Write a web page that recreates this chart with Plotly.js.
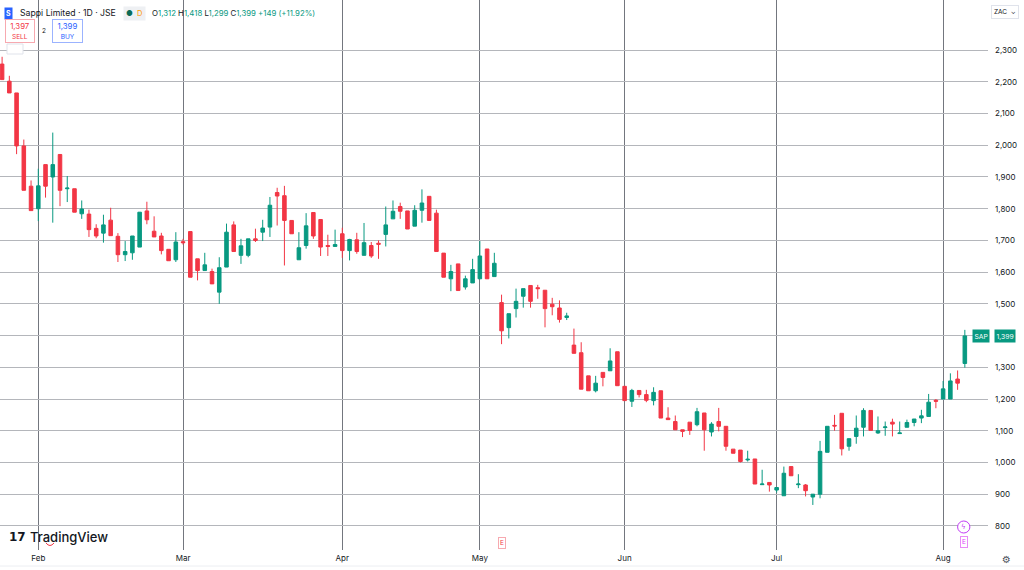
<!DOCTYPE html>
<html>
<head>
<meta charset="utf-8">
<script src="https://cdn.plot.ly/plotly-3.0.1.min.js"></script>
<style>
  html, body { margin: 0; padding: 0; background: #ffffff; }
  #chart { width: 1024px; height: 570px; }
</style>
</head>
<body>
<div id="chart"></div>
<script>
// ---- Data (Sappi Limited, 1D, JSE, ZAC) ----
const openVals = [2256,2202,2165,1998,1871,1800,1939,1900,1971,1863,1863,1784,1783,1738,1723,1764,1713,1655,1661,1679,1793,1729,1714,1672,1639,1696,1728,1642,1605,1602,1537,1616,1749,1653,1653,1705,1726,1742,1851,1841,1763,1639,1684,1788,1766,1684,1681,1721,1668,1702,1653,1684,1691,1719,1768,1807,1793,1745,1795,1839,1786,1660,1579,1626,1553,1566,1579,1673,1586,1504,1425,1485,1524,1558,1551,1543,1499,1487,1457,1370,1346,1273,1226,1284,1289,1349,1240,1193,1227,1214,1195,1226,1140,1129,1103,1127,1119,1156,1096,1129,1114,1042,1039,1008,1011,930,937,913,895,987,930,929,891,900,1032,1117,1155,1051,1082,1111,1164,1093,1110,1127,1091,1111,1126,1140,1145,1196,1200,1200,1263,1312];
const highVals = [2279,2219,2165,2018,1889,1926,1939,2040,1971,1903,1863,1826,1797,1751,1781,1803,1723,1698,1714,1789,1822,1776,1724,1672,1726,1705,1728,1642,1661,1611,1647,1753,1760,1705,1705,1737,1765,1837,1866,1872,1763,1726,1786,1788,1766,1718,1734,1740,1705,1724,1755,1695,1700,1807,1826,1819,1793,1811,1861,1839,1797,1660,1623,1626,1589,1642,1698,1673,1661,1529,1469,1548,1548,1558,1560,1543,1519,1511,1472,1422,1379,1273,1273,1284,1360,1349,1240,1232,1227,1229,1237,1226,1174,1148,1103,1127,1172,1156,1127,1172,1114,1042,1039,1037,1011,977,937,921,987,987,963,932,900,1068,1114,1150,1155,1075,1148,1171,1164,1145,1129,1138,1129,1135,1137,1166,1216,1200,1257,1281,1290,1418];
const lowVals = [2207,2165,1972,1858,1794,1761,1835,1756,1808,1821,1789,1768,1711,1707,1693,1715,1632,1635,1639,1679,1751,1711,1656,1636,1632,1687,1584,1574,1605,1563,1500,1616,1665,1626,1647,1695,1698,1711,1747,1621,1721,1639,1674,1705,1651,1651,1681,1645,1637,1658,1653,1645,1642,1681,1768,1768,1736,1745,1756,1763,1665,1584,1540,1542,1545,1566,1579,1579,1586,1373,1391,1457,1488,1488,1516,1426,1464,1441,1449,1344,1231,1226,1221,1240,1289,1242,1195,1175,1205,1190,1180,1140,1135,1103,1080,1087,1114,1037,1082,1098,1037,1029,1000,1003,932,930,908,905,895,958,919,893,866,887,1032,1100,1022,1037,1059,1082,1101,1090,1084,1082,1090,1111,1114,1124,1145,1171,1200,1200,1229,1299];
const closeVals = [2207,2165,1998,1858,1794,1872,1871,1939,1858,1865,1789,1799,1734,1714,1749,1715,1655,1665,1714,1789,1765,1711,1668,1636,1695,1693,1584,1605,1623,1563,1614,1726,1665,1683,1705,1700,1739,1811,1840,1763,1721,1677,1746,1714,1679,1681,1687,1668,1703,1665,1693,1651,1688,1749,1792,1792,1736,1795,1818,1763,1665,1584,1602,1542,1579,1608,1651,1579,1628,1415,1469,1508,1548,1508,1548,1485,1491,1451,1462,1344,1231,1226,1250,1268,1320,1242,1195,1227,1214,1196,1221,1140,1135,1103,1098,1101,1160,1103,1121,1114,1051,1029,1003,1010,932,932,929,921,966,958,932,911,900,1035,1114,1115,1043,1075,1108,1164,1101,1100,1112,1121,1093,1126,1137,1147,1190,1193,1232,1257,1250,1399];

// Bar index of the first trading day of each month, and its label
const monthStartBars = [5, 25, 47, 66, 86, 107, 130];
const monthLabels = ['Feb', 'Mar', 'Apr', 'May', 'Jun', 'Jul', 'Aug'];

// Price scale ticks
const priceTicks = [800, 900, 1000, 1100, 1200, 1300, 1400, 1500, 1600, 1700, 1800, 1900, 2000, 2100, 2200, 2300];

const symbolTitle = 'Sappi Limited · 1D · JSE';
const lastOHLC = {o: '1,312', h: '1,418', l: '1,299', c: '1,399', chg: '+149 (+11.92%)'};
const sellPrice = '1,397';
const buyPrice = '1,399';
const spread = '2';
const tickerLabel = 'SAP';

// ---- Chart ----
const GREEN = '#089981';
const RED = '#F23645';
const PURPLE = '#c13cf5';
const barIdx = openVals.map((_, i) => i);
const lastIdx = barIdx[barIdx.length - 1];
const lastClose = closeVals[closeVals.length - 1];
const fmt = v => v.toLocaleString('en-US');
// the last-price label covers the tick label nearest to it
const priceTickText = priceTicks.map(v => Math.abs(v - lastClose) < 30 ? '' : fmt(v));

const trace = {
  type: 'candlestick',
  x: barIdx,
  open: openVals,
  high: highVals,
  low: lowVals,
  close: closeVals,
  increasing: {line: {color: GREEN, width: 1}, fillcolor: GREEN},
  decreasing: {line: {color: RED, width: 1}, fillcolor: RED},
  whiskerwidth: 0,
  hoverinfo: 'skip',
  showlegend: false
};

const FONT = 'Inter, "Noto Sans", "DejaVu Sans", sans-serif';
const PW = 988, PH = 550;
const px = v => v / PW;            // paper x from pixel
const py = v => 1 - v / PH;        // paper y from pixel

const annotations = [
  // Header: symbol icon
  {xref: 'paper', yref: 'paper', x: px(8.5), y: py(13), text: '<b>S</b>', showarrow: false,
   font: {family: FONT, size: 7, color: '#ffffff'}, bgcolor: '#2962ff', borderpad: 1,
   xanchor: 'center', yanchor: 'middle'},
  {xref: 'paper', yref: 'paper', x: px(18), y: py(13), text: symbolTitle, showarrow: false,
   font: {family: FONT, size: 8.7, color: '#131722'}, xanchor: 'left', yanchor: 'middle'},
  {xref: 'paper', yref: 'paper', x: px(123), y: py(13),
   text: '<span style="color:#0b6b57">●</span>  <span style="color:#ff9800">D</span>', showarrow: false,
   font: {family: FONT, size: 7.5, color: '#131722'}, bgcolor: '#eef0f3', borderpad: 2,
   xanchor: 'left', yanchor: 'middle'},
  {xref: 'paper', yref: 'paper', x: px(150), y: py(13),
   text: 'O<span style="color:#089981">' + lastOHLC.o + '</span> H<span style="color:#089981">' + lastOHLC.h +
         '</span> L<span style="color:#089981">' + lastOHLC.l + '</span> C<span style="color:#089981">' + lastOHLC.c +
         '</span> <span style="color:#089981">' + lastOHLC.chg + '</span>',
   showarrow: false, font: {family: FONT, size: 7.8, color: '#131722'}, xanchor: 'left', yanchor: 'middle'},
  // SELL / BUY
  {xref: 'paper', yref: 'paper', x: px(20), y: py(31.5),
   text: sellPrice + '<br><span style="font-size:6.5px">SELL</span>', showarrow: false,
   font: {family: FONT, size: 7.8, color: RED}, bordercolor: '#f7a9b0', borderwidth: 1, borderpad: 1,
   bgcolor: '#ffffff', width: 26, xanchor: 'center', yanchor: 'middle'},
  {xref: 'paper', yref: 'paper', x: px(44), y: py(31.5), text: spread, showarrow: false,
   font: {family: FONT, size: 6.5, color: '#131722'}, xanchor: 'center', yanchor: 'middle'},
  {xref: 'paper', yref: 'paper', x: px(67.5), y: py(31.5),
   text: buyPrice + '<br><span style="font-size:6.5px">BUY</span>', showarrow: false,
   font: {family: FONT, size: 7.8, color: '#2962ff'}, bordercolor: '#9bb3ff', borderwidth: 1, borderpad: 1,
   bgcolor: '#ffffff', width: 27, xanchor: 'center', yanchor: 'middle'},
  // ZAC currency button
  {xref: 'paper', yref: 'paper', x: px(1005), y: py(12), text: 'ZAC  ⌄', showarrow: false,
   font: {family: FONT, size: 6.5, color: '#131722'}, bordercolor: '#e0e3eb', borderwidth: 1, borderpad: 2,
   bgcolor: '#ffffff', xanchor: 'center', yanchor: 'middle'},
  // Last price labels
  {xref: 'paper', yref: 'y', x: px(981), y: lastClose, text: tickerLabel, showarrow: false,
   font: {family: FONT, size: 6.8, color: '#ffffff'}, bgcolor: GREEN, borderpad: 1.5,
   xanchor: 'center', yanchor: 'middle'},
  {xref: 'paper', yref: 'y', x: px(1005), y: lastClose, text: fmt(lastClose), showarrow: false,
   font: {family: FONT, size: 6.8, color: '#ffffff'}, bgcolor: GREEN, borderpad: 1.5,
   xanchor: 'center', yanchor: 'middle'},
  // Event markers
  {xref: 'x', yref: 'paper', x: 69, y: py(543), text: 'E', showarrow: false,
   font: {family: FONT, size: 6.5, color: RED}, bordercolor: '#f7a9b0', borderwidth: 1, borderpad: 1,
   bgcolor: '#ffffff', xanchor: 'center', yanchor: 'middle'},
  {xref: 'x', yref: 'paper', x: lastIdx - 0.15, y: py(527), text: 'ϟ', showarrow: false,
   font: {family: '"DejaVu Sans", sans-serif', size: 7, color: PURPLE}, xanchor: 'center', yanchor: 'middle'},
  {xref: 'x', yref: 'paper', x: lastIdx - 0.15, y: py(542), text: 'E', showarrow: false,
   font: {family: FONT, size: 6.5, color: '#e040fb'}, bordercolor: '#e88cf7', borderwidth: 1, borderpad: 1,
   bgcolor: '#ffffff', xanchor: 'center', yanchor: 'middle'},
  // TradingView logo
  {xref: 'paper', yref: 'paper', x: px(7), y: py(537),
   text: '<b>17</b>', showarrow: false,
   font: {family: '"DejaVu Sans", sans-serif', size: 12, color: '#131722'}, xanchor: 'left', yanchor: 'middle'},
  {xref: 'paper', yref: 'paper', x: px(28), y: py(537),
   text: 'TradingView', showarrow: false,
   font: {family: FONT, size: 13, color: '#131722', weight: 500}, xanchor: 'left', yanchor: 'middle'},
  // settings icon
  {xref: 'paper', yref: 'paper', x: px(1006), y: py(559), text: '⚙', showarrow: false,
   font: {family: '"DejaVu Sans", sans-serif', size: 10, color: '#50535e'}, xanchor: 'center', yanchor: 'middle'}
];

// small arc of the event marker hidden behind the logo
const arcPath = 'M ' + px(46) + ' ' + py(543) + ' Q ' + px(50) + ' ' + py(548) + ' ' + px(54) + ' ' + py(543);

const layout = {
  width: 1024,
  height: 570,
  margin: {l: 0, r: 36, t: 0, b: 20},
  paper_bgcolor: '#ffffff',
  plot_bgcolor: '#ffffff',
  showlegend: false,
  dragmode: false,
  font: {family: FONT, color: '#131722'},
  xaxis: {
    type: 'linear',
    range: [-0.29, 136.2],
    rangeslider: {visible: false},
    tickmode: 'array',
    tickvals: monthStartBars,
    ticktext: monthLabels,
    showgrid: true,
    gridcolor: '#73767e',
    gridwidth: 1,
    zeroline: false,
    showline: false,
    ticks: '',
    tickfont: {family: FONT, size: 8, color: '#131722'},
    ticklabelstandoff: 2,
    fixedrange: true
  },
  yaxis: {
    side: 'right',
    range: [724, 2458],
    tickmode: 'array',
    tickvals: priceTicks,
    ticktext: priceTickText,
    showgrid: true,
    gridcolor: '#b4b6bb',
    gridwidth: 1,
    zeroline: false,
    showline: false,
    ticks: '',
    tickfont: {family: FONT, size: 8, color: '#131722'},
    ticklabelstandoff: 6,
    fixedrange: true
  },
  annotations: annotations,
  shapes: [
    {type: 'rect', xref: 'paper', yref: 'paper', x0: px(7), x1: px(23), y0: py(54), y1: py(44),
     line: {color: '#e0e3eb', width: 1}, fillcolor: '#ffffff'},
    {type: 'circle', xref: 'x', yref: 'paper', x0: lastIdx - 1.0, x1: lastIdx + 0.7, y0: py(533), y1: py(521),
     line: {color: PURPLE, width: 1}, fillcolor: '#ffffff', layer: 'above'},
    {type: 'path', xref: 'paper', yref: 'paper', path: arcPath, line: {color: RED, width: 1}},
    {type: 'line', xref: 'paper', yref: 'paper', x0: 0, x1: 1024 / PW, y0: py(566), y1: py(566),
     line: {color: '#eceef2', width: 1}}
  ]
};

Plotly.newPlot('chart', [trace], layout, {displayModeBar: false, staticPlot: true});
</script>
</body>
</html>
